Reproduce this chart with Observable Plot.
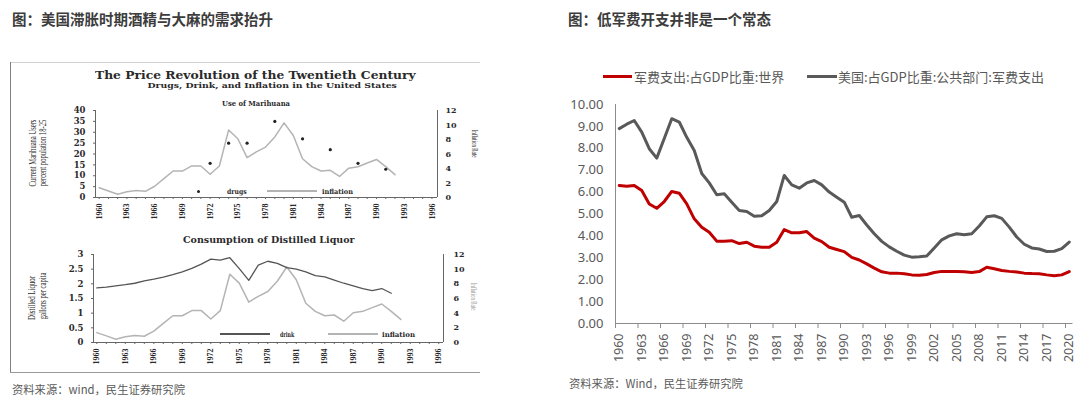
<!DOCTYPE html>
<html>
<head>
<meta charset="utf-8">
<script src="https://cdn.jsdelivr.net/npm/d3@7"></script>
<script src="https://cdn.jsdelivr.net/npm/@observablehq/plot@0.6"></script>
<style>
  html, body { margin: 0; padding: 0; }
  body { width: 1080px; height: 398px; background: #fff; position: relative; overflow: hidden;
         font-family: "Noto Sans CJK SC", "Noto Sans", sans-serif; }
  .abs { position: absolute; }
  .title { position: absolute; top: 8px; font-size: 14.5px; font-weight: bold; color: #3c3c3c; white-space: nowrap; }
  .src { position: absolute; font-size: 11.3px; color: #5a5a5a; white-space: nowrap; }
  .leg { position: absolute; font-size: 13px; color: #595959; white-space: nowrap; line-height: 1; }
  .sw { position: absolute; height: 3px; }
  svg { position: absolute; }
</style>
</head>
<body>
<div class="title" style="left:12px">图：美国滞胀时期酒精与大麻的需求抬升</div>
<div class="title" style="left:568px">图：低军费开支并非是一个常态</div>

<!-- scanned frame -->
<div class="abs" style="left:10px;top:62px;width:470px;height:1px;background:#d0d0d0"></div>
<div class="abs" style="left:10px;top:62px;width:1px;height:310px;background:#808080"></div>
<div class="abs" style="left:10px;top:372px;width:470px;height:1px;background:#9a9a9a"></div>

<div class="src" style="left:12px;top:381px">资料来源：wind，民生证券研究院</div>
<div class="src" style="left:569px;top:375px">资料来源：Wind，民生证券研究院</div>

<!-- right legend -->
<div class="sw" style="left:603px;top:75px;width:29px;background:#C00000"></div>
<div class="leg" style="left:634px;top:70px">军费支出:占GDP比重:世界</div>
<div class="sw" style="left:807px;top:75px;width:30px;background:#595959"></div>
<div class="leg" style="left:838px;top:70px">美国:占GDP比重:公共部门:军费支出</div>

<script>
// ---------- Right chart data: military spending as % of GDP ----------
const milYears = d3.range(1960, 2021);
const worldMil = [6.30,6.27,6.30,6.07,5.46,5.26,5.57,6.03,5.95,5.46,
                  4.78,4.40,4.17,3.76,3.76,3.78,3.65,3.71,3.53,3.48,
                  3.48,3.71,4.29,4.14,4.14,4.20,3.90,3.74,3.48,3.38,
                  3.28,3.02,2.90,2.72,2.53,2.36,2.30,2.30,2.27,2.22,
                  2.20,2.24,2.33,2.38,2.38,2.37,2.36,2.33,2.37,2.57,
                  2.50,2.42,2.38,2.35,2.30,2.28,2.27,2.22,2.18,2.22,
                  2.37];
const usMil = [8.90,9.10,9.27,8.74,7.98,7.55,8.45,9.35,9.20,8.50,
               7.90,6.85,6.42,5.88,5.92,5.54,5.16,5.11,4.90,4.92,
               5.16,5.57,6.76,6.33,6.18,6.42,6.53,6.33,6.00,5.77,
               5.54,4.85,4.93,4.50,4.10,3.75,3.50,3.30,3.12,3.03,
               3.05,3.08,3.45,3.82,4.00,4.10,4.05,4.10,4.45,4.87,
               4.92,4.80,4.40,3.95,3.62,3.45,3.40,3.29,3.30,3.42,
               3.72];
const milYTicks = [0,1,2,3,4,5,6,7,8,9,10];
const milXLabels = [1960,1963,1966,1969,1972,1975,1978,1981,1984,1987,1990,1993,1996,1999,2002,2005,2008,2011,2014,2017,2020];

// ---------- Left (scanned) chart data ----------
const scanYearLabels = [1960,1963,1966,1969,1972,1975,1978,1981,1984,1987,1990,1993,1996];
const scanYearTicks = d3.range(1960, 1997);
const inflYears = d3.range(1960, 1993);
const inflation = [1.35,0.90,0.45,0.78,0.95,0.85,1.55,2.60,3.65,3.65,
                   4.35,4.35,3.20,4.35,9.30,8.10,5.50,6.30,6.95,8.35,
                   10.30,8.55,5.35,4.25,3.65,3.75,2.90,4.05,4.25,4.75,
                   5.25,4.25,3.15];
const drugYears = [1972,1974,1976,1979,1982,1985,1988,1991];
const drugs = [15.7,25,25,35,27,22,15.7,13];
const drinkYears = d3.range(1960, 1992);
const drink = [1.86,1.89,1.93,1.97,2.02,2.10,2.16,2.23,2.31,2.41,
               2.53,2.67,2.84,2.81,2.89,2.52,2.12,2.64,2.77,2.70,
               2.55,2.50,2.41,2.28,2.24,2.13,2.02,1.93,1.84,1.77,
               1.84,1.68];
const drugTicks = [0,5,10,15,20,25,30,35,40];
const drinkTicks = [0,0.5,1,1.5,2,2.5,3];
const inflTicks = [0,2,4,6,8,10,12];

// ---------- helpers ----------
function put(svg, left, top) {
  svg.style.left = left + "px";
  svg.style.top = top + "px";
  document.body.appendChild(svg);
}
function label(txt, o) {
  const el = document.createElement("div");
  el.textContent = txt;
  Object.assign(el.style, {
    position: "absolute", whiteSpace: "nowrap", lineHeight: "1",
    fontFamily: o.font || "'DejaVu Serif', serif", fontSize: o.size + "px",
    fontWeight: o.weight || "bold", color: o.color || "#2a2a2a"
  });
  document.body.appendChild(el);
  const w = el.offsetWidth, h = el.offsetHeight;
  const s = o.len ? o.len / w : 1;
  if (o.anchor === "start") {
    el.style.left = o.x + "px"; el.style.top = (o.y - h / 2) + "px";
    el.style.transformOrigin = "0 50%";
  } else {
    el.style.left = (o.x - w / 2) + "px"; el.style.top = (o.y - h / 2) + "px";
    el.style.transformOrigin = "50% 50%";
  }
  el.style.transform = `rotate(${o.rotate || 0}deg) scaleX(${s})`;
}
function hline(x1, x2, y, color, w) {
  const d = document.createElement("div");
  Object.assign(d.style, {position: "absolute", left: x1 + "px", top: (y - w / 2) + "px",
    width: (x2 - x1) + "px", height: w + "px", background: color});
  document.body.appendChild(d);
}

const scanStyle = {fontFamily: "'DejaVu Serif', serif", fontSize: "8.5px", color: "#2a2a2a", background: "transparent", overflow: "visible"};
const axisCol = "#666";
const inflCol = "#b4b4b4";
const drinkCol = "#555";

// ---------- top scanned chart: marihuana ----------
const kTop = 40 / 12;
const topPlot = Plot.plot({
  width: 460, height: 125,
  marginLeft: 85, marginRight: 33, marginTop: 10, marginBottom: 28,
  x: {domain: [1959.6, 1996.6]},
  y: {domain: [0, 40]},
  style: scanStyle,
  marks: [
    Plot.axisY({ticks: drugTicks, tickFormat: d => String(d), tickSize: 2, tickPadding: 8, label: null, fontWeight: "bold", fontSize: 8.5, stroke: axisCol}),
    Plot.axisY({anchor: "right", ticks: inflTicks.map(v => v * kTop), tickFormat: d => String(Math.round(d / kTop)), tickSize: 0, tickPadding: 8, label: null, fontWeight: "bold", fontSize: 8}),
    Plot.axisX({ticks: scanYearTicks, tickSize: 2, tickFormat: () => "", label: null, stroke: axisCol}),
    Plot.axisX({ticks: scanYearLabels, tickSize: 0, tickPadding: 6, tickRotate: -90, tickFormat: d => String(d), label: null, fontFamily: "'Liberation Serif', serif", fontSize: 8, fontWeight: "bold"}),
    Plot.ruleX([1959.6, 1996.6], {stroke: axisCol}),
    Plot.ruleY([0], {stroke: axisCol}),
    Plot.line(inflYears.map((y, i) => ({year: y, v: inflation[i]})), {x: "year", y: d => d.v * kTop, stroke: inflCol, strokeWidth: 1.5}),
    Plot.dot(drugYears.map((y, i) => ({year: y, v: drugs[i]})), {x: "year", y: "v", r: 1.6, fill: "#222", stroke: null})
  ]
});
put(topPlot, 10, 100);

// ---------- bottom scanned chart: liquor ----------
const kBot = 3 / 12;
const botPlot = Plot.plot({
  width: 460, height: 125,
  marginLeft: 83, marginRight: 27, marginTop: 9, marginBottom: 28,
  x: {domain: [1959.65, 1996.5]},
  y: {domain: [0, 3]},
  style: scanStyle,
  marks: [
    Plot.axisY({ticks: drinkTicks, tickFormat: d => String(d), tickSize: 2, tickPadding: 8, label: null, fontWeight: "bold", fontSize: 8.5, stroke: axisCol}),
    Plot.axisY({anchor: "right", ticks: inflTicks.map(v => v * kBot), tickFormat: d => String(Math.round(d / kBot)), tickSize: 0, tickPadding: 10, label: null, fontWeight: "bold", fontSize: 8}),
    Plot.axisX({ticks: scanYearTicks, tickSize: 2, tickFormat: () => "", label: null, stroke: axisCol}),
    Plot.axisX({ticks: scanYearLabels, tickSize: 0, tickPadding: 6, tickRotate: -90, tickFormat: d => String(d), label: null, fontFamily: "'Liberation Serif', serif", fontSize: 8, fontWeight: "bold"}),
    Plot.ruleX([1959.65, 1996.5], {stroke: axisCol}),
    Plot.ruleY([0], {stroke: axisCol}),
    Plot.line(inflYears.map((y, i) => ({year: y, v: inflation[i]})), {x: "year", y: d => d.v * kBot, stroke: inflCol, strokeWidth: 1.5}),
    Plot.line(drinkYears.map((y, i) => ({year: y, v: drink[i]})), {x: "year", y: "v", stroke: drinkCol, strokeWidth: 1.3})
  ]
});
put(botPlot, 10, 245);

// scanned texts
label("The Price Revolution of the Twentieth Century", {x: 255, y: 75, size: 11, len: 321});
label("Drugs, Drink, and Inflation in the United States", {x: 272, y: 85, size: 8, len: 249});
label("Use of  Marihuana", {x: 256, y: 103, size: 8, len: 68});
label("Consumption of Distilled Liquor", {x: 269, y: 240, size: 8.5, len: 172});
label("Current Marihuana Users", {x: 33, y: 153, size: 10, len: 67, rotate: -90, font: "'Liberation Serif', serif", weight: "normal"});
label("percent population 18-25", {x: 43.5, y: 153, size: 10, len: 67, rotate: -90, font: "'Liberation Serif', serif", weight: "normal"});
label("Distilled Liquor", {x: 32, y: 298, size: 10, len: 44, rotate: -90, font: "'Liberation Serif', serif", weight: "normal"});
label("gallons per capita", {x: 43.5, y: 296, size: 10, len: 47, rotate: -90, font: "'Liberation Serif', serif", weight: "normal"});
label("Inflation Rate", {x: 475, y: 143, size: 9, len: 28, rotate: 90, font: "'Liberation Serif', serif", weight: "normal"});
label("Inflation Rate", {x: 474, y: 296, size: 9, len: 28, rotate: 90, font: "'Liberation Serif', serif", weight: "normal", color: "#9a9a9a"});

// scanned legends
const dotEl = document.createElement("div");
Object.assign(dotEl.style, {position: "absolute", left: "196.5px", top: "189.5px", width: "3px", height: "3px", borderRadius: "50%", background: "#222"});
document.body.appendChild(dotEl);
label("drugs", {x: 227, y: 191, size: 7, len: 20, anchor: "start"});
hline(267, 317, 191, inflCol, 1.2);
label("inflation", {x: 322, y: 191, size: 7, len: 31, anchor: "start"});
hline(220, 270, 334, drinkCol, 1.2);
label("drink", {x: 280, y: 334, size: 7, len: 14, anchor: "start"});
hline(328, 378, 334, inflCol, 1.2);
label("inflation", {x: 382, y: 334, size: 7, len: 33, anchor: "start"});

// ---------- right chart ----------
const milRows = milYears.map((y, i) => ({year: y, us: usMil[i], world: worldMil[i]}));
const boundaries = milXLabels.map(y => y - 0.5);
const rightPlot = Plot.plot({
  width: 520, height: 290,
  marginLeft: 55, marginRight: 7.5, marginTop: 9, marginBottom: 62,
  x: {domain: [1959.5, 2020.5]},
  y: {domain: [0, 10]},
  style: {fontFamily: "'Noto Sans', sans-serif", fontSize: "13px", color: "#595959", background: "transparent", overflow: "visible"},
  marks: [
    Plot.axisY({ticks: milYTicks, tickFormat: d => d.toFixed(2), tickSize: 0, tickPadding: 12, label: null, fontSize: 13}),
    Plot.axisX({ticks: boundaries, tickSize: 5, tickFormat: () => "", label: null, stroke: "#8c8c8c"}),
    Plot.axisX({ticks: milXLabels, tickSize: 0, tickPadding: 10, tickRotate: -90, tickFormat: d => String(d), label: null, fontSize: 12.5}),
    Plot.ruleX([1959.5], {stroke: "#8c8c8c"}),
    Plot.ruleY([0], {stroke: "#8c8c8c"}),
    Plot.line(milRows, {x: "year", y: "us", stroke: "#595959", strokeWidth: 3, strokeLinejoin: "round"}),
    Plot.line(milRows, {x: "year", y: "world", stroke: "#C00000", strokeWidth: 3, strokeLinejoin: "round"})
  ]
});
put(rightPlot, 560, 95);
</script>
</body>
</html>
